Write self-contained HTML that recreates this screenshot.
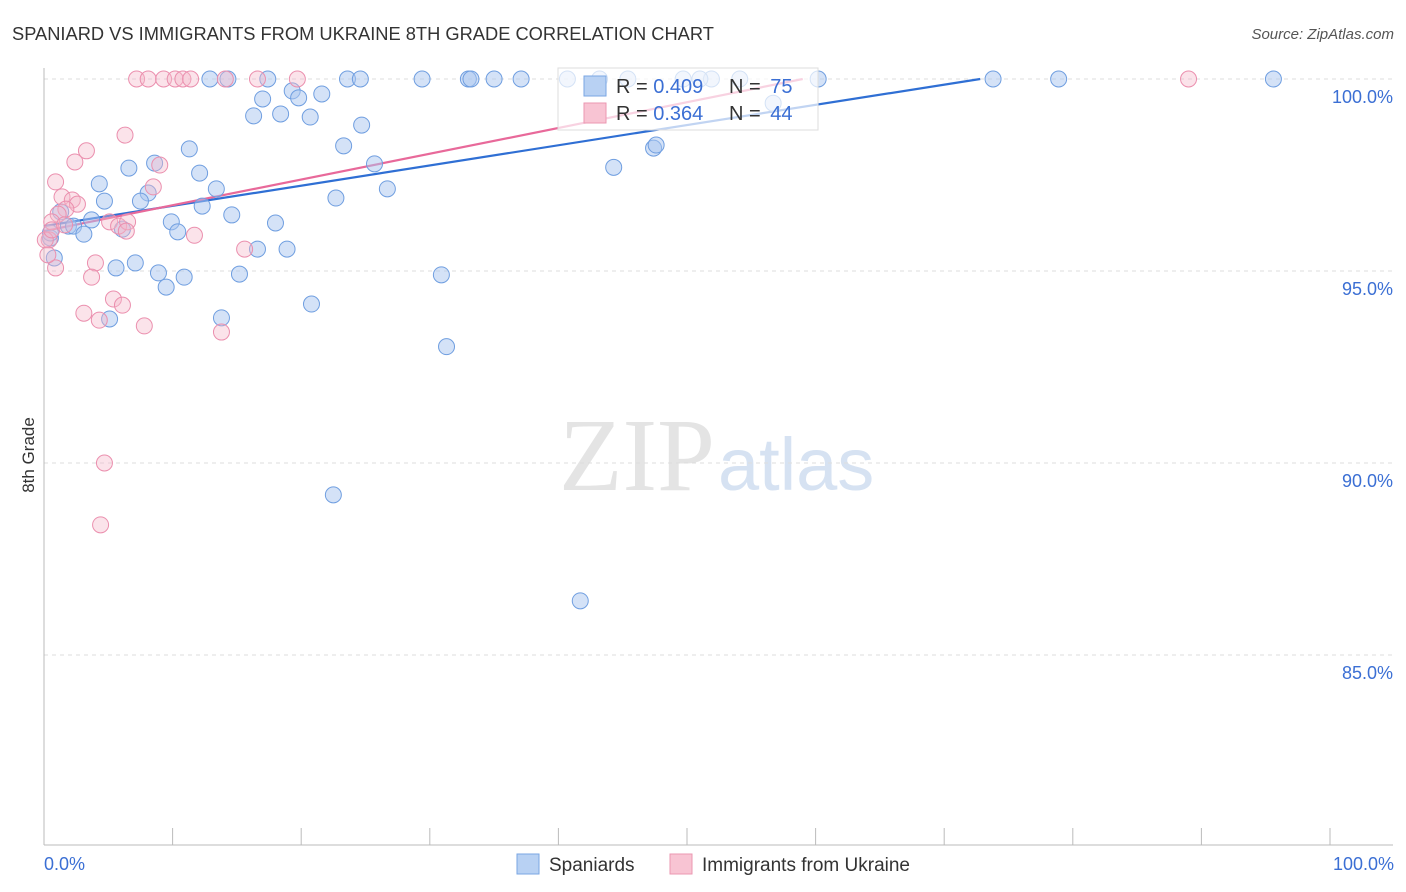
<!DOCTYPE html>
<html><head><meta charset="utf-8"><style>
body{margin:0;background:#fff;font-family:"Liberation Sans",sans-serif}
svg{display:block}
</style></head><body>
<svg id="chart" width="1406" height="892">
<text x="12" y="40" font-size="18.3" fill="#333">SPANIARD VS IMMIGRANTS FROM UKRAINE 8TH GRADE CORRELATION CHART</text>
<text x="1394" y="39" font-size="15" fill="#555" font-style="italic" text-anchor="end">Source: ZipAtlas.com</text>
<text x="715" y="490" font-size="104" fill="#e4e4e4" font-family="Liberation Serif,serif" text-anchor="end">ZIP</text>
<text x="718" y="490" font-size="74" fill="#d6e2f2">atlas</text>
<text transform="translate(34,455) rotate(-90)" font-size="17" fill="#333" text-anchor="middle">8th Grade</text>
<g id="grid"></g><g id="axes"></g><g id="lines"></g><g id="pts"></g>
<g>
<rect x="558" y="68" width="260" height="62" fill="#fff" fill-opacity="0.7" stroke="#ddd"/>
<rect x="584" y="76" width="22" height="20" fill="#b8d1f3" stroke="#7aa6e3"/>
<rect x="584" y="103" width="22" height="20" fill="#f8c4d3" stroke="#eb97b2"/>
<text x="616" y="93" font-size="20" fill="#333">R = <tspan fill="#3b6fd4">0.409</tspan></text>
<text x="729" y="93" font-size="20" fill="#333">N = <tspan fill="#3b6fd4" dx="4">75</tspan></text>
<text x="616" y="120" font-size="20" fill="#333">R = <tspan fill="#3b6fd4">0.364</tspan></text>
<text x="729" y="120" font-size="20" fill="#333">N = <tspan fill="#3b6fd4" dx="4">44</tspan></text>
</g>
<g>
<rect x="517" y="854" width="22" height="20" fill="#b8d1f3" stroke="#7aa6e3"/>
<text x="549" y="871" font-size="19" fill="#333">Spaniards</text>
<rect x="670" y="854" width="22" height="20" fill="#f8c4d3" stroke="#eb97b2"/>
<text x="702" y="871" font-size="19" fill="#333">Immigrants from Ukraine</text>
</g>
<text x="44" y="870" font-size="18" fill="#3b6fd4">0.0%</text>
<text x="1394" y="870" font-size="18" fill="#3b6fd4" text-anchor="end">100.0%</text>
</svg>
<script>
const yTicks=[100,95,90,85];
const yTickLabels=["100.0%","95.0%","90.0%","85.0%"];
const xTicks=[0,10,20,30,40,50,60,70,80,90,100];
const blueX=[12.9,14.3,17.4,23.6,24.6,29.4,33.0,33.2,35.0,37.1,40.7,45.4,49.7,51.9,54.1,60.2,73.8,78.9,95.6,17.0,19.3,19.8,21.6,16.3,18.4,20.7,24.7,23.3,25.7,26.7,22.7,11.3,8.6,6.6,4.3,12.1,13.4,8.1,7.5,4.7,12.3,14.6,9.9,10.4,18.0,16.6,18.9,3.7,1.9,1.3,2.3,3.1,0.5,0.8,6.1,7.1,5.6,8.9,10.9,15.2,9.5,20.8,13.8,5.1,30.9,31.3,22.5,41.7,44.3,47.4,47.6,56.7,43.2,51.0,0.5];
const blueY=[100,100,100,100,100,100,100,100,100,100,100,100,100,100,100,100,100,100,100,99.48,99.69,99.51,99.61,99.04,99.09,99.01,98.8,98.26,97.79,97.14,96.9,98.18,97.81,97.68,97.27,97.55,97.14,97.03,96.82,96.82,96.69,96.46,96.28,96.02,96.25,95.57,95.57,96.33,96.17,96.54,96.17,95.96,95.86,95.34,96.09,95.21,95.08,94.95,94.84,94.92,94.58,94.14,93.78,93.75,94.9,93.03,89.17,86.41,97.7,98.2,98.28,99.37,100,100,95.99];
const pinkX=[7.2,8.1,9.3,10.2,10.8,11.4,14.1,16.6,19.7,89.0,6.3,3.3,2.4,0.9,8.5,9.0,1.4,2.2,2.6,1.7,1.1,0.6,5.1,5.8,6.5,6.4,11.7,15.6,0.4,0.9,4.0,3.7,5.4,6.1,3.1,4.3,7.8,13.8,4.7,4.4,0.1,0.6,1.6,0.3];
const pinkY=[100,100,100,100,100,100,100,100,100,100,98.54,98.13,97.84,97.32,97.19,97.76,96.93,96.85,96.74,96.61,96.48,96.28,96.28,96.17,96.28,96.04,95.93,95.57,95.81,95.08,95.21,94.84,94.27,94.11,93.9,93.72,93.57,93.41,90.0,88.39,95.81,96.07,96.2,95.42];
const fitX=[0,72.8,0,59.0];
const fitY=[96.17,100,96.04,100];
const X=v=>44+v*12.86, Y=v=>79+(100-v)*38.4;
const NS="http://www.w3.org/2000/svg";
function mk(t,a,p){const e=document.createElementNS(NS,t);for(const k in a)e.setAttribute(k,a[k]);p.appendChild(e);return e;}
const grid=document.getElementById('grid'),axes=document.getElementById('axes'),lines=document.getElementById('lines'),pts=document.getElementById('pts');
yTicks.forEach((v,i)=>{
 const l=mk('line',{x1:44,x2:1393,y1:Y(v),y2:Y(v),stroke:'#ddd','stroke-dasharray':'4,4'},grid);
 
 
 const t=mk('text',{x:1393,y:Y(v)+24,'font-size':18,fill:'#3b6fd4','text-anchor':'end'},grid);
 t.textContent=yTickLabels[i];
 
 
});
const ax=mk('line',{x1:44,x2:1393,y1:845,y2:845,stroke:'#bbb'},axes);


const ay=mk('line',{x1:44,x2:44,y1:68,y2:845,stroke:'#bbb'},axes);


xTicks.forEach(v=>{
 const t=mk('line',{x1:X(v),x2:X(v),y1:828,y2:845,stroke:'#bbb'},axes);
 
 
});
blueX.forEach((x,i)=>{
 const c=mk('circle',{cx:X(x),cy:Y(blueY[i]),r:8,fill:'#a9c6ef','fill-opacity':0.5,stroke:'#6f9ee0','stroke-width':1},pts);
 
 
});
pinkX.forEach((x,i)=>{
 const c=mk('circle',{cx:X(x),cy:Y(pinkY[i]),r:8,fill:'#f6b8cb','fill-opacity':0.4,stroke:'#eb8fae','stroke-width':1},pts);
 
 
});
const lb=mk('line',{x1:X(fitX[0]),y1:Y(fitY[0]),x2:X(fitX[1]),y2:Y(fitY[1]),stroke:'#2f6fd4','stroke-width':2.2},lines);


const lp=mk('line',{x1:X(fitX[2]),y1:Y(fitY[2]),x2:X(fitX[3]),y2:Y(fitY[3]),stroke:'#e8699a','stroke-width':2.2},lines);


</script>
</body></html>
